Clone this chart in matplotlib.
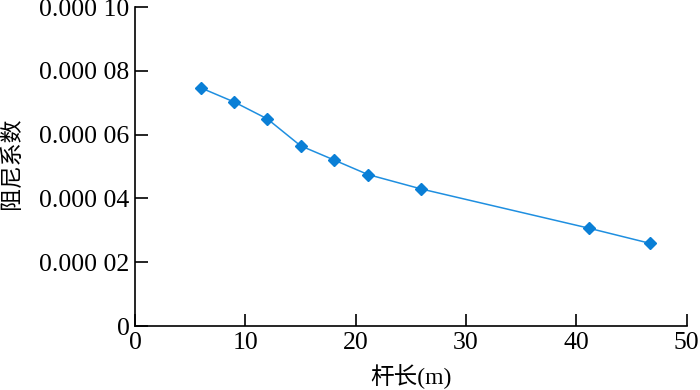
import numpy as np
import matplotlib
matplotlib.use('Agg')
import matplotlib.pyplot as plt

plt.rcParams['font.family'] = ['Liberation Serif', 'Noto Sans CJK SC']

# data
rod_length = [6.0, 9.0, 12.0, 15.0, 18.0, 21.1, 25.9, 41.1, 46.7]
damping = [7.46e-5, 7.02e-5, 6.49e-5, 5.65e-5, 5.21e-5, 4.75e-5, 4.30e-5, 3.07e-5, 2.59e-5]

x_ticks = [0, 10, 20, 30, 40, 50]
y_ticks = [0, 2e-5, 4e-5, 6e-5, 8e-5, 1e-4]
y_tick_labels = ['0', '0.000 02', '0.000 04', '0.000 06', '0.000 08', '0.000 10']

fig = plt.figure(figsize=(7, 3.9), dpi=100)
ax = fig.add_axes([0.193, 0.164, 0.788, 0.818])

ax.plot(rod_length, damping, color='#1f8fe0', linewidth=1.1,
        marker='D', markersize=6.5, markerfacecolor='#0a7fd6',
        markeredgecolor='#0a7fd6')

ax.set_xlim(0, 50)
ax.set_ylim(0, 1e-4)
ax.set_xticks(x_ticks)
ax.set_xticklabels([str(t) for t in x_ticks])
ax.set_yticks(y_ticks)
ax.set_yticklabels(y_tick_labels)

for side in ('top', 'right'):
    ax.spines[side].set_visible(False)
for side in ('left', 'bottom'):
    ax.spines[side].set_linewidth(1.2)

ax.tick_params(direction='in', length=9, width=1.2, labelsize=18.5, pad=4)

ax.set_xlabel('杆长(m)', fontsize=17, labelpad=0)
ax.xaxis.set_label_coords(0.5, -0.118)
ax.set_ylabel('阻尼系数', fontsize=16.5)
ax.yaxis.set_label_coords(-0.203, 0.509)

fig.savefig('out.png', dpi=100)
